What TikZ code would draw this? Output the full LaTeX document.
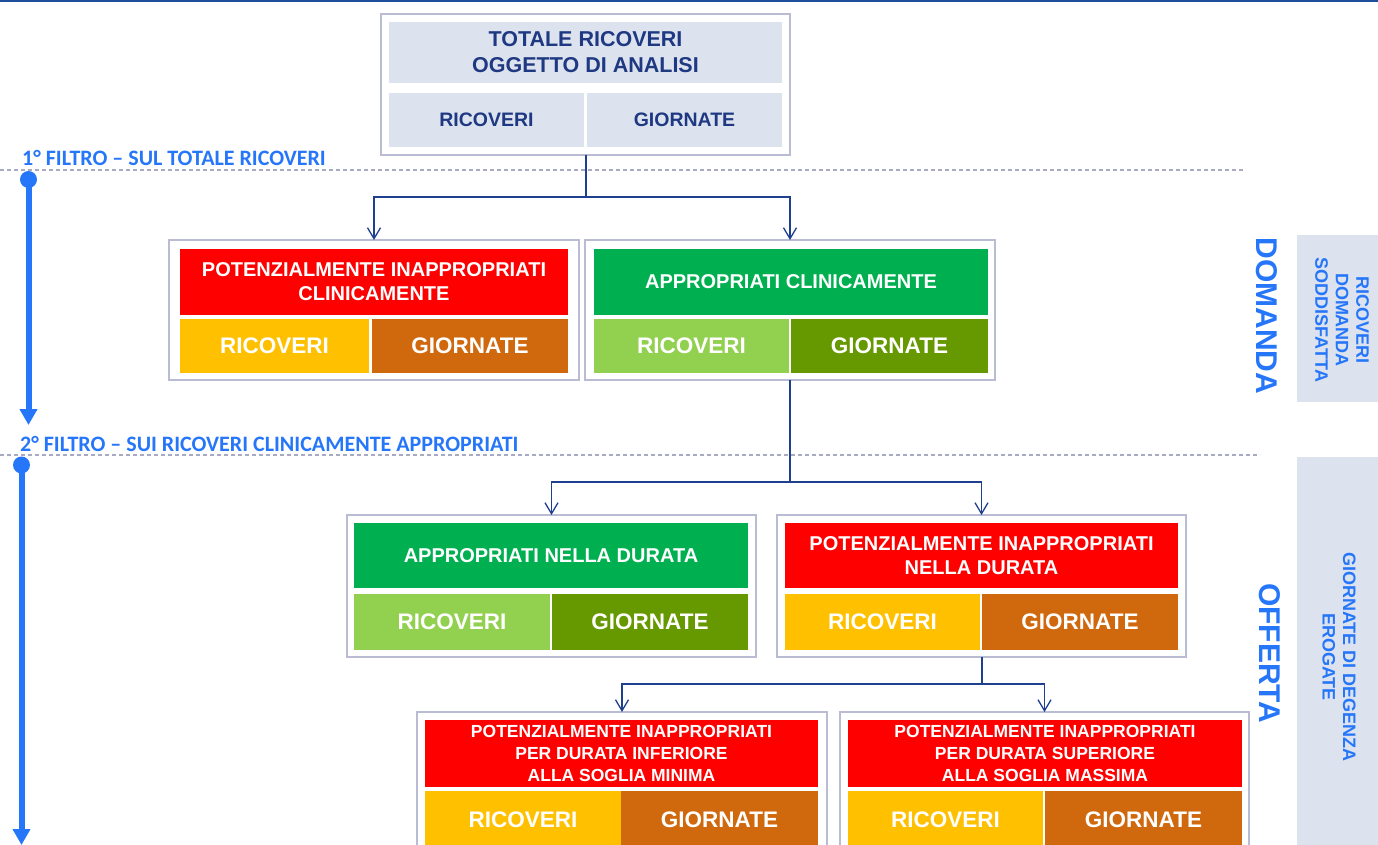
\documentclass[tikz,border=0pt]{standalone}
\usepackage{fontspec}
\setmainfont{Liberation Sans}
\newfontfamily\calib{Carlito}
\usetikzlibrary{arrows.meta,calc}

\definecolor{navytext}{RGB}{31,56,130}
\definecolor{linknavy}{RGB}{31,63,143}
\definecolor{rulenavy}{RGB}{31,78,154}
\definecolor{framegray}{RGB}{185,188,211}
\definecolor{paleblue}{RGB}{220,227,238}
\definecolor{sepgray}{RGB}{168,170,196}
\definecolor{flowblue}{RGB}{38,118,250}
\definecolor{cred}{RGB}{255,0,0}
\definecolor{cgreen}{RGB}{0,176,80}
\definecolor{clgreen}{RGB}{146,208,80}
\definecolor{cdgreen}{RGB}{102,153,0}
\definecolor{cyellow}{RGB}{255,192,0}
\definecolor{corange}{RGB}{208,105,14}

\begin{document}
\begin{tikzpicture}[x=1pt,y=-1pt,
  frame/.style={draw=framegray, line width=1.3pt, fill=white, inner sep=0pt, outer sep=0pt, anchor=north west},
  cell/.style={inner sep=0pt, outer sep=0pt, anchor=north west, align=center, text=white,
    font=\fontsize{20}{24}\selectfont\bfseries},
  subcell/.style={cell, font=\fontsize{22.5}{26}\selectfont\bfseries},
  smallcell/.style={cell, font=\fontsize{17.5}{22}\selectfont\bfseries},
  headcell/.style={cell, fill=paleblue, text=navytext, font=\fontsize{21.5}{26}\selectfont\bfseries},
  headsub/.style={cell, fill=paleblue, text=navytext, font=\fontsize{19.5}{24}\selectfont\bfseries},
  link/.style={draw=linknavy, line width=1.5pt},
  trunk/.style={draw=linknavy, line width=2pt},
  linkarrow/.style={link, -{Straight Barb[length=11pt,width=13pt,line width=1.3pt]}},
  flow/.style={draw=flowblue, line width=6pt, -{Triangle[width=17pt,length=16pt]}},
  sep/.style={draw=sepgray, line width=1.2pt, dash pattern=on 4pt off 3pt},
  filt/.style={text=flowblue, inner sep=0pt, anchor=base west, font=\calib\bfseries\fontsize{22}{26}\selectfont},
  side/.style={text=flowblue, inner sep=0pt, font=\fontsize{30}{34}\selectfont\bfseries},
  panel/.style={fill=paleblue, inner sep=0pt, outer sep=0pt, anchor=north west},
  paneltext/.style={text=flowblue, inner sep=0pt, align=center, font=\fontsize{18}{20.5}\selectfont\bfseries}
]
\useasboundingbox (0,0) rectangle (1378,845);
\begin{scope}
\clip (0,0) rectangle (1378,845);

% rule along the top edge
\draw[rulenavy, line width=2.5pt] (0,1) -- (1378,1);

% filter separators and their labels
\draw[sep] (0,170) -- (1245,170);
\draw[sep] (0,455) -- (1260,455);
\node[filt] (lab1) at (22,166) {1° FILTRO – SUL TOTALE RICOVERI};
\node[filt] (lab2) at (20,451) {2° FILTRO – SUI RICOVERI CLINICAMENTE APPROPRIATI};

% phase arrows on the left
\coordinate (f1s) at (28.5,179.5);
\coordinate (f1e) at (28.5,425);
\coordinate (f2s) at (21.5,465);
\coordinate (f2e) at (21.5,845);
\fill[flowblue] (f1s) circle[radius=8.5pt];
\draw[flow] (f1s) -- (f1e);
\fill[flowblue] (f2s) circle[radius=8.5pt];
\draw[flow] (f2s) -- (f2e);

% top box: total admissions
\node[frame, minimum width=409pt, minimum height=141pt] (top) at (381,14) {};
\node[headcell, minimum width=393pt, minimum height=61pt] (toptitle) at (389,22) {TOTALE RICOVERI\\OGGETTO DI ANALISI};
\node[headsub, minimum width=195pt, minimum height=54pt] (topric) at (389,93) {RICOVERI};
\node[headsub, minimum width=195pt, minimum height=54pt] (topgio) at (587,93) {GIORNATE};

% first filter
\node[frame, minimum width=410pt, minimum height=140pt] (r2l) at (169,240) {};
\node[cell, fill=cred, minimum width=388pt, minimum height=66pt] (r2lt) at (180,249) {POTENZIALMENTE INAPPROPRIATI\\CLINICAMENTE};
\node[subcell, fill=cyellow, minimum width=189pt, minimum height=54pt] (r2lr) at (180,319) {RICOVERI};
\node[subcell, fill=corange, minimum width=196pt, minimum height=54pt] (r2lg) at (372,319) {GIORNATE};

\node[frame, minimum width=410pt, minimum height=140pt] (r2r) at (585,240) {};
\node[cell, fill=cgreen, minimum width=394pt, minimum height=66pt] (r2rt) at (594,249) {APPROPRIATI CLINICAMENTE};
\node[subcell, fill=clgreen, minimum width=195pt, minimum height=54pt] (r2rr) at (594,319) {RICOVERI};
\node[subcell, fill=cdgreen, minimum width=197pt, minimum height=54pt] (r2rg) at (791,319) {GIORNATE};

% second filter
\node[frame, minimum width=409pt, minimum height=142pt] (r3l) at (347,515) {};
\node[cell, fill=cgreen, minimum width=394pt, minimum height=65pt] (r3lt) at (354,523) {APPROPRIATI NELLA DURATA};
\node[subcell, fill=clgreen, minimum width=196pt, minimum height=56pt] (r3lr) at (354,594) {RICOVERI};
\node[subcell, fill=cdgreen, minimum width=196pt, minimum height=56pt] (r3lg) at (552,594) {GIORNATE};

\node[frame, minimum width=409pt, minimum height=142pt] (r3r) at (777,515) {};
\node[cell, fill=cred, minimum width=393pt, minimum height=65pt] (r3rt) at (785,523) {POTENZIALMENTE INAPPROPRIATI\\NELLA DURATA};
\node[subcell, fill=cyellow, minimum width=195pt, minimum height=56pt] (r3rr) at (785,594) {RICOVERI};
\node[subcell, fill=corange, minimum width=196pt, minimum height=56pt] (r3rg) at (982,594) {GIORNATE};

% split by length-of-stay thresholds
\node[frame, minimum width=410pt, minimum height=150pt] (r4l) at (417,712) {};
\node[smallcell, fill=cred, minimum width=393pt, minimum height=67pt] (r4lt) at (425,720) {POTENZIALMENTE INAPPROPRIATI\\PER DURATA INFERIORE\\ALLA SOGLIA MINIMA};
\node[subcell, fill=cyellow, minimum width=196pt, minimum height=58pt] (r4lr) at (425,791) {RICOVERI};
\node[subcell, fill=corange, minimum width=197pt, minimum height=58pt] (r4lg) at (621,791) {GIORNATE};

\node[frame, minimum width=409pt, minimum height=150pt] (r4r) at (840,712) {};
\node[smallcell, fill=cred, minimum width=394pt, minimum height=67pt] (r4rt) at (848,720) {POTENZIALMENTE INAPPROPRIATI\\PER DURATA SUPERIORE\\ALLA SOGLIA MASSIMA};
\node[subcell, fill=cyellow, minimum width=195pt, minimum height=58pt] (r4rr) at (848,791) {RICOVERI};
\node[subcell, fill=corange, minimum width=197pt, minimum height=58pt] (r4rg) at (1045,791) {GIORNATE};

% connectors
\coordinate (j1) at ($(top.south)+(0,42)$);
\draw[trunk] (top.south) -- (j1);
\draw[linkarrow] (j1) -| (r2l.north);
\draw[linkarrow] (j1) -| (r2r.north);

\coordinate (j2) at ($(r2r.south)+(0,102)$);
\draw[trunk] (r2r.south) -- (j2);
\draw[linkarrow] (j2) -| (r3l.north);
\draw[linkarrow] (j2) -| (r3r.north);

\coordinate (j3) at ($(r3r.south)+(0,27)$);
\draw[trunk] (r3r.south) -- (j3);
\draw[linkarrow] (j3) -| (r4l.north);
\draw[linkarrow] (j3) -| (r4r.north);

% phase labels and side panels
\node[side, rotate=-90] (dom) at (1267,316) {DOMANDA};
\node[side, rotate=-90] (off) at (1270,653) {OFFERTA};
\node[panel, minimum width=90pt, minimum height=167pt] (p1) at (1297,235) {};
\node[paneltext, rotate=-90] (p1t) at (1342,320) {RICOVERI\\DOMANDA\\SODDISFATTA};
\node[panel, minimum width=90pt, minimum height=400pt] (p2) at (1297,457) {};
\node[paneltext, rotate=-90] (p2t) at (1339,657) {GIORNATE DI DEGENZA\\EROGATE};
\end{scope}
\end{tikzpicture}
\end{document}
